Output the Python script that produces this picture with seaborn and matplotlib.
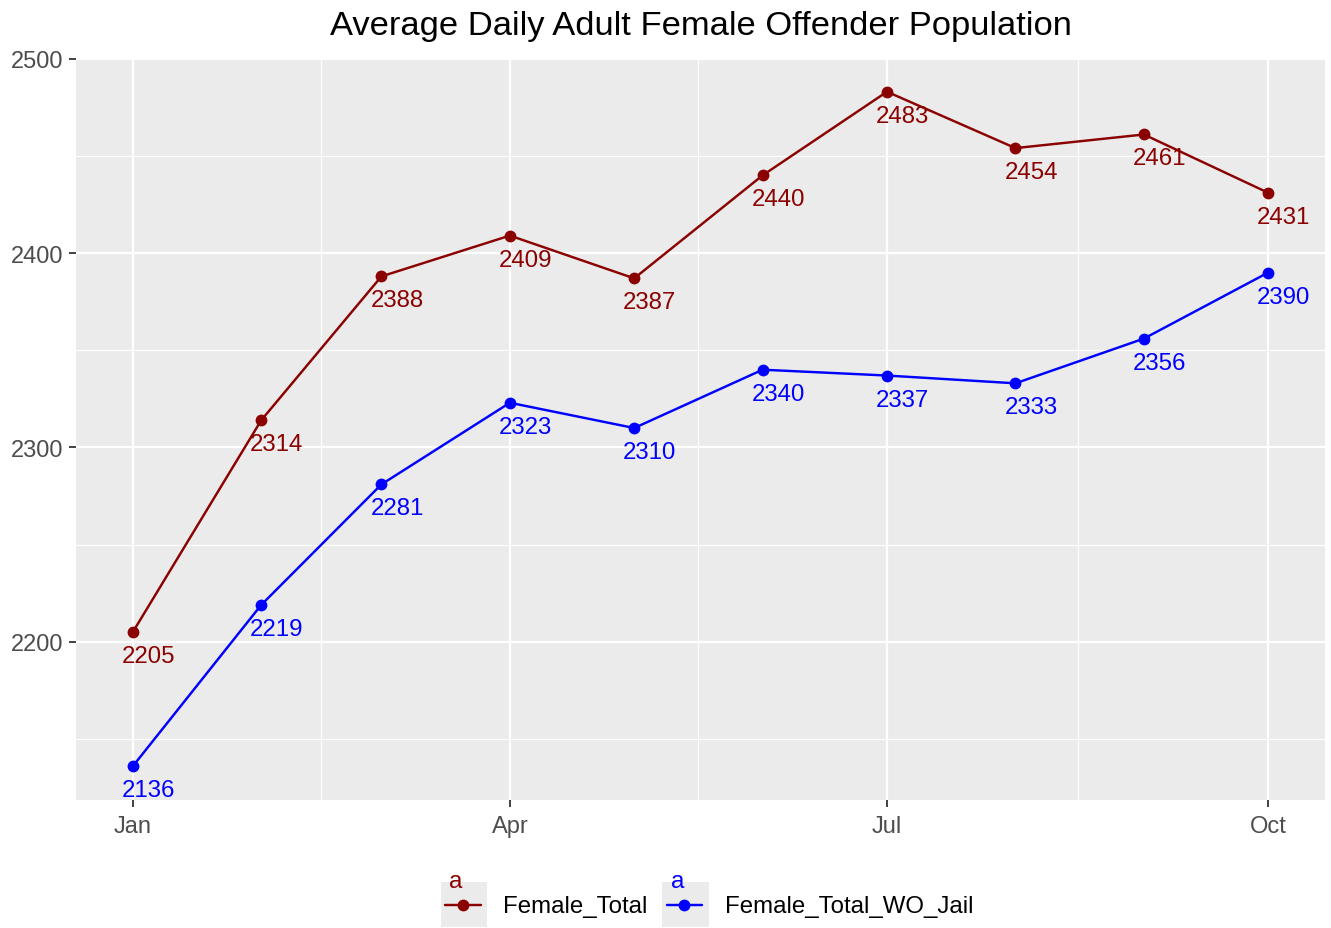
import matplotlib
matplotlib.use("Agg")
import matplotlib.pyplot as plt
import matplotlib.dates as mdates
from matplotlib.legend_handler import HandlerBase
from matplotlib.patches import Rectangle
from matplotlib.lines import Line2D
import seaborn as sns
import pandas as pd
import numpy as np

months = ["2016-01-01", "2016-02-01", "2016-03-01", "2016-04-01", "2016-05-01",
          "2016-06-01", "2016-07-01", "2016-08-01", "2016-09-01", "2016-10-01"]
female_total = [2205, 2314, 2388, 2409, 2387, 2440, 2483, 2454, 2461, 2431]
female_total_wo_jail = [2136, 2219, 2281, 2323, 2310, 2340, 2337, 2333, 2356, 2390]
series_names = ["Female_Total", "Female_Total_WO_Jail"]
colors = {"Female_Total": "#8B0000", "Female_Total_WO_Jail": "#0000FF"}
title = "Average Daily Adult Female Offender Population"
yticks = [2200, 2300, 2400, 2500]
xtick_dates = ["2016-01-01", "2016-04-01", "2016-07-01", "2016-10-01"]

dates = pd.to_datetime(months)
df = pd.concat([
    pd.DataFrame({"date": dates, "value": female_total, "series": series_names[0]}),
    pd.DataFrame({"date": dates, "value": female_total_wo_jail, "series": series_names[1]}),
])

sns.set_style("darkgrid", {"axes.facecolor": "#EBEBEB", "grid.color": "white"})
plt.rcParams["font.family"] = ["Liberation Sans", "DejaVu Sans"]

LW = 1.75
MS = 8.5

fig = plt.figure(figsize=(13.31, 9.29), dpi=100)
ax = fig.add_axes([76/1331, 1-801/929, (1325-76)/1331, (801-59)/929])

sns.lineplot(data=df, x="date", y="value", hue="series", palette=colors,
             marker="o", markersize=MS, markeredgewidth=0, linewidth=LW,
             ax=ax, legend=False)

for name, vals in zip(series_names, [female_total, female_total_wo_jail]):
    for d, v in zip(dates, vals):
        ax.annotate(str(v), xy=(mdates.date2num(d), v), xytext=(-11, -24),
                    textcoords="offset pixels", ha="left", va="center",
                    color=colors[name], fontsize=17.3)

# axes limits with ggplot-like expansion
x0 = mdates.date2num(dates[0]); x1 = mdates.date2num(dates[-1])
xr = x1 - x0
ax.set_xlim(x0 - 0.05*xr, x1 + 0.05*xr)
allv = female_total + female_total_wo_jail
yr = max(allv) - min(allv)
ax.set_ylim(min(allv) - 0.05*yr, max(allv) + 0.05*yr)

major = pd.to_datetime(xtick_dates)
majn = mdates.date2num(major)
ax.set_xticks(majn)
ax.set_xticklabels([d.strftime("%b") for d in major])
ax.set_xticks((majn[:-1] + majn[1:]) / 2, minor=True)
ax.set_yticks(yticks)
ax.set_yticks([2150, 2250, 2350, 2450], minor=True)
ax.grid(which="major", color="white", linewidth=1.6)
ax.grid(which="minor", color="white", linewidth=0.8)
ax.tick_params(which="major", length=5, width=1.3, color="#333333",
               labelcolor="#4D4D4D", labelsize=17, pad=4, bottom=True, left=True)
ax.tick_params(axis="x", which="major", pad=5.5)
ax.tick_params(which="minor", length=0)
for s in ax.spines.values():
    s.set_visible(False)
ax.set_xlabel("")
ax.set_ylabel("")
ax.set_title(title, fontsize=24.8, pad=17, color="black")


class KeyHandler(HandlerBase):
    def __init__(self, color):
        super().__init__()
        self.color = color

    def create_artists(self, legend, orig_handle, xdescent, ydescent, width, height, fontsize, trans):
        rect = Rectangle((-xdescent, -ydescent), width, height,
                         facecolor="#EBEBEB", edgecolor="none", transform=trans)
        yc = -ydescent + 0.5*height
        line = Line2D([-xdescent + 0.09*width, -xdescent + 0.86*width], [yc, yc],
                      color=self.color, linewidth=LW, transform=trans)
        pt = Line2D([-xdescent + 0.47*width], [yc], marker="o", markersize=MS,
                    markeredgewidth=0, color=self.color, transform=trans)
        txt = matplotlib.text.Text(-xdescent + 0.33*width, -ydescent + height - 3.0, "a",
                                   color=self.color, fontsize=17.3, ha="center",
                                   va="baseline", transform=trans,
                                   fontfamily=["Liberation Sans", "DejaVu Sans"])
        return [rect, line, pt, txt]


h1 = Line2D([], [], color=colors[series_names[0]])
h2 = Line2D([], [], color=colors[series_names[1]])
fig.legend([h1, h2], series_names, loc="lower center", ncol=2,
           bbox_to_anchor=(707/1331, 0.0), frameon=False, fontsize=17.3,
           labelcolor="black",
           handler_map={h1: KeyHandler(colors[series_names[0]]),
                        h2: KeyHandler(colors[series_names[1]])},
           handlelength=1.92, handleheight=2.46, handletextpad=0.67,
           columnspacing=0.62, borderaxespad=0.0, borderpad=0.05)

fig.savefig("out.png", dpi=100)
